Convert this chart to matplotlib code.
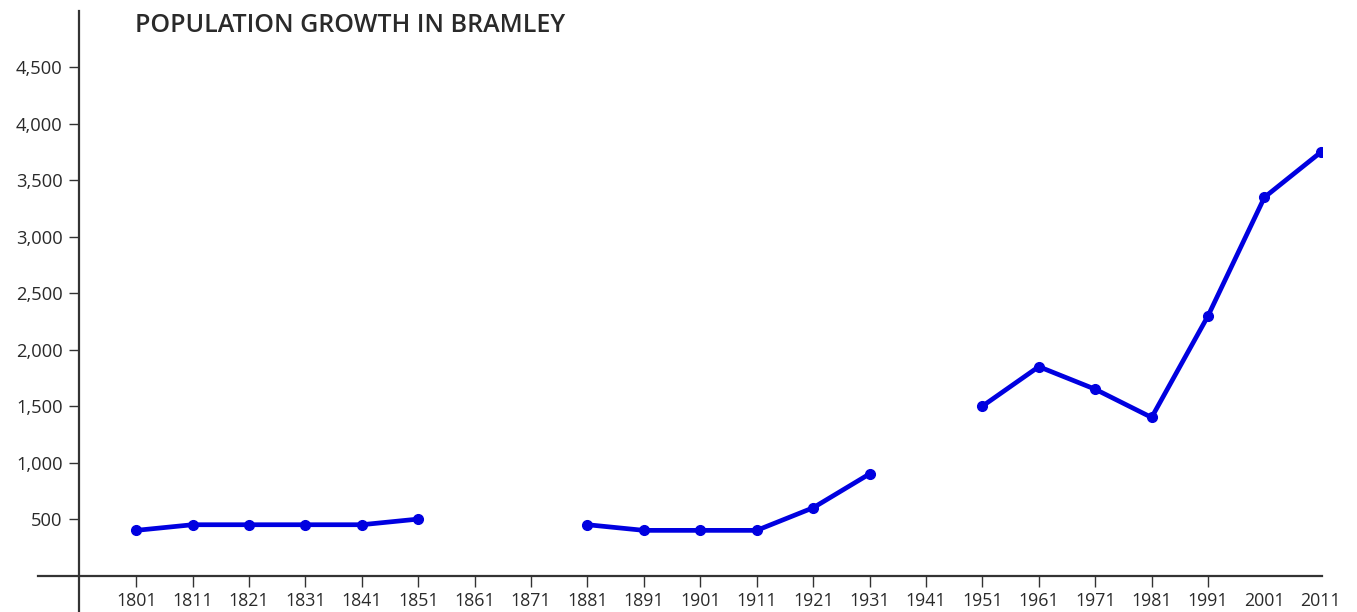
import matplotlib
matplotlib.use("Agg")
import matplotlib.pyplot as plt
import numpy as np

plt.rcParams['font.family'] = ['Open Sans', 'DejaVu Sans']

years = [1801, 1811, 1821, 1831, 1841, 1851, 1861, 1871, 1881, 1891, 1901,
         1911, 1921, 1931, 1941, 1951, 1961, 1971, 1981, 1991, 2001, 2011]
population = [400, 450, 450, 450, 450, 500, np.nan, np.nan, 450, 400, 400,
              400, 600, 900, np.nan, 1500, 1850, 1650, 1400, 2300, 3350, 3750]
y_ticks = [500, 1000, 1500, 2000, 2500, 3000, 3500, 4000, 4500]
title = "POPULATION GROWTH IN BRAMLEY"

W, H = 1357, 612
fig = plt.figure(figsize=(W / 100, H / 100), dpi=100)
ax = fig.add_axes([38 / W, 0, (1322 - 38) / W, (H - 11) / H])

ax.plot(years, population, color='#0000e0', lw=3.4, marker='o', ms=7,
        solid_capstyle='round', solid_joinstyle='round')

ax.set_xlim(1783.6, 2011.2)
ax.set_ylim(-323, 5000)

for s in ['top', 'right']:
    ax.spines[s].set_visible(False)
ax.spines['left'].set_position(('data', 1790.9))
ax.spines['bottom'].set_position(('data', 0))
ax.spines['left'].set_linewidth(1.6)
ax.spines['bottom'].set_linewidth(1.6)
ax.spines['left'].set_color('#333333')
ax.spines['bottom'].set_color('#333333')

ax.set_xticks(years)
ax.set_xticklabels([str(y) for y in years])
ax.set_yticks(y_ticks)
ax.set_yticklabels([f"{v:,}" for v in y_ticks])

ax.tick_params(axis='x', direction='out', length=8, width=1, color='#333333',
               labelsize=12.8, labelcolor='#2a2a2a', pad=4)
ax.tick_params(axis='y', direction='out', length=7, width=1, color='#333333',
               labelsize=13.2, labelcolor='#2a2a2a', pad=5)
for t in ax.xaxis.get_major_ticks()[-2:]:
    t.tick1line.set_visible(False)

fig.text(135 / W, 1 - 25 / H, title, fontsize=18, color='#2a2a2a',
         fontweight='semibold', va='center', ha='left')

fig.savefig("out.png", dpi=100)
